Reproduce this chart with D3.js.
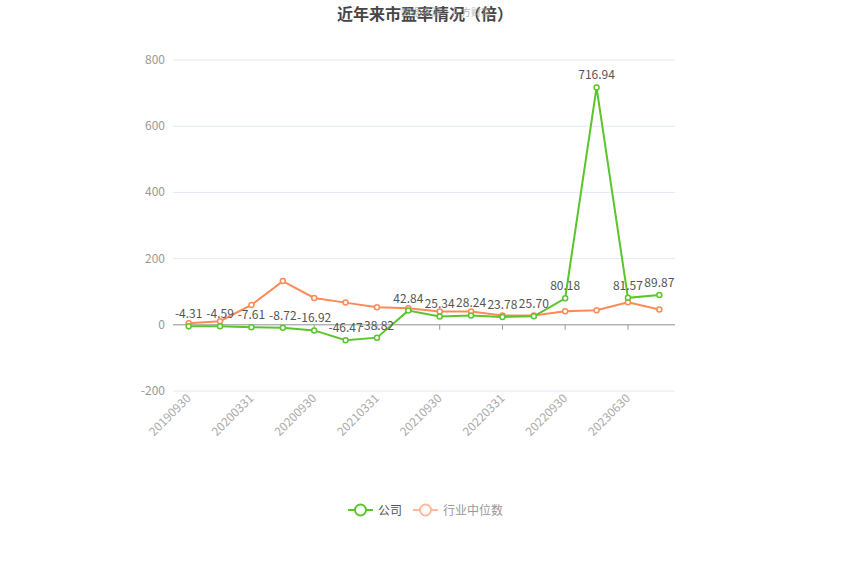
<!DOCTYPE html>
<html>
<head>
<meta charset="utf-8">
<script src="https://cdn.jsdelivr.net/npm/d3@7"></script>
<style>
  body { margin: 0; background: #fff; }
  svg text { font-family: "Microsoft YaHei", "Noto Sans CJK SC", sans-serif; }
</style>
</head>
<body>
<svg id="chart"></svg>
<script>
// data
var dates = ["20190930","20191231","20200331","20200630","20200930","20201231","20210331","20210630",
             "20210930","20211231","20220331","20220630","20220930","20230331","20230630","20230930"]
var company = [-4.31,-4.59,-7.61,-8.72,-16.92,-46.47,-38.82,42.84,25.34,28.24,23.78,25.70,80.18,716.94,81.57,89.87]
var industry = [5,11,60,132,81,67,53,50,40,40,28,28,41,44,68,46]
var yTicks = [-200,0,200,400,600,800]
var seriesNames = ["公司","行业中位数"]

var W = 850, H = 574
var margin = {left:173, right:175, top:60, bottom:183}
var green = "#5cc42d", orange = "#ff8a58"

var svg = d3.select("#chart").attr("width", W).attr("height", H)

var x = d3.scaleBand().domain(dates).range([margin.left, W - margin.right])
var y = d3.scaleLinear().domain([-200, 800]).range([H - margin.bottom, margin.top])
var cx = function(d){ return x(d) + x.bandwidth()/2 }

// grid
svg.append("g").selectAll("line").data(yTicks).enter().append("line")
    .attr("x1", margin.left).attr("x2", W - margin.right)
    .attr("y1", d => y(d)).attr("y2", d => y(d))
    .attr("stroke", "#e3e8f2").attr("stroke-width", 1)

svg.append("g").selectAll("text").data(yTicks).enter().append("text")
    .attr("x", margin.left - 8).attr("y", d => y(d) + 4)
    .attr("text-anchor", "end").attr("font-size", 12).attr("fill", "#999")
    .text(d => d)

// zero axis line with ticks every other category
svg.append("line")
    .attr("x1", margin.left).attr("x2", W - margin.right)
    .attr("y1", y(0)).attr("y2", y(0))
    .attr("stroke", "#9a9a9a").attr("stroke-width", 1)

var shown = dates.filter((d,i) => i % 2 == 0)
svg.append("g").selectAll("line").data(shown).enter().append("line")
    .attr("x1", d => cx(d)).attr("x2", d => cx(d))
    .attr("y1", y(0)).attr("y2", y(0) + 5)
    .attr("stroke", "#9a9a9a")

svg.append("g").selectAll("text").data(shown).enter().append("text")
    .attr("transform", d => "translate(" + (cx(d) + 3) + "," + (y(-200) + 8) + ") rotate(-45)")
    .attr("text-anchor", "end").attr("font-size", 12).attr("fill", "#aaa")
    .text(d => d)

// lines
var line = d3.line().x((d,i) => cx(dates[i])).y(d => y(d))

function drawSeries(vals, color){
    svg.append("path").datum(vals)
        .attr("d", line).attr("fill", "none")
        .attr("stroke", color).attr("stroke-width", 2)
    svg.append("g").selectAll("circle").data(vals).enter().append("circle")
        .attr("cx", (d,i) => cx(dates[i])).attr("cy", d => y(d)).attr("r", 2.5)
        .attr("fill", "#fff").attr("stroke", color).attr("stroke-width", 1.5)
}
drawSeries(industry, orange)
drawSeries(company, green)

svg.append("g").selectAll("text").data(company).enter().append("text")
    .attr("x", (d,i) => cx(dates[i])).attr("y", d => y(d) - 8)
    .attr("text-anchor", "middle").attr("font-size", 12).attr("fill", "#555")
    .text(d => d.toFixed(2))

// title + watermark
svg.append("text").attr("x", 425).attr("y", 20)
    .attr("text-anchor", "middle").attr("font-size", 16).attr("font-weight", "bold")
    .attr("fill", "#464646").text("近年来市盈率情况（倍）")
svg.append("text").attr("x", 446).attr("y", 16)
    .attr("text-anchor", "middle").attr("font-size", 10)
    .attr("fill", "#999").attr("opacity", 0.7).text("数据来源：东方财富")

// legend
var legend = [{name: seriesNames[0], color: green, text: "#555", x: 348},
              {name: seriesNames[1], color: "#ffb89b", text: "#999", x: 413}]
var lg = svg.append("g").selectAll("g").data(legend).enter().append("g")
    .attr("transform", d => "translate(" + d.x + ",510)")
lg.append("line").attr("x1", 0).attr("x2", 25)
    .attr("stroke", d => d.color).attr("stroke-width", 2)
lg.append("circle").attr("cx", 12.5).attr("r", 5.5)
    .attr("fill", "#fff").attr("stroke", d => d.color).attr("stroke-width", 2)
lg.append("text").attr("x", 30).attr("y", 4.5)
    .attr("font-size", 12).attr("fill", d => d.text).text(d => d.name)
</script>
</body>
</html>
